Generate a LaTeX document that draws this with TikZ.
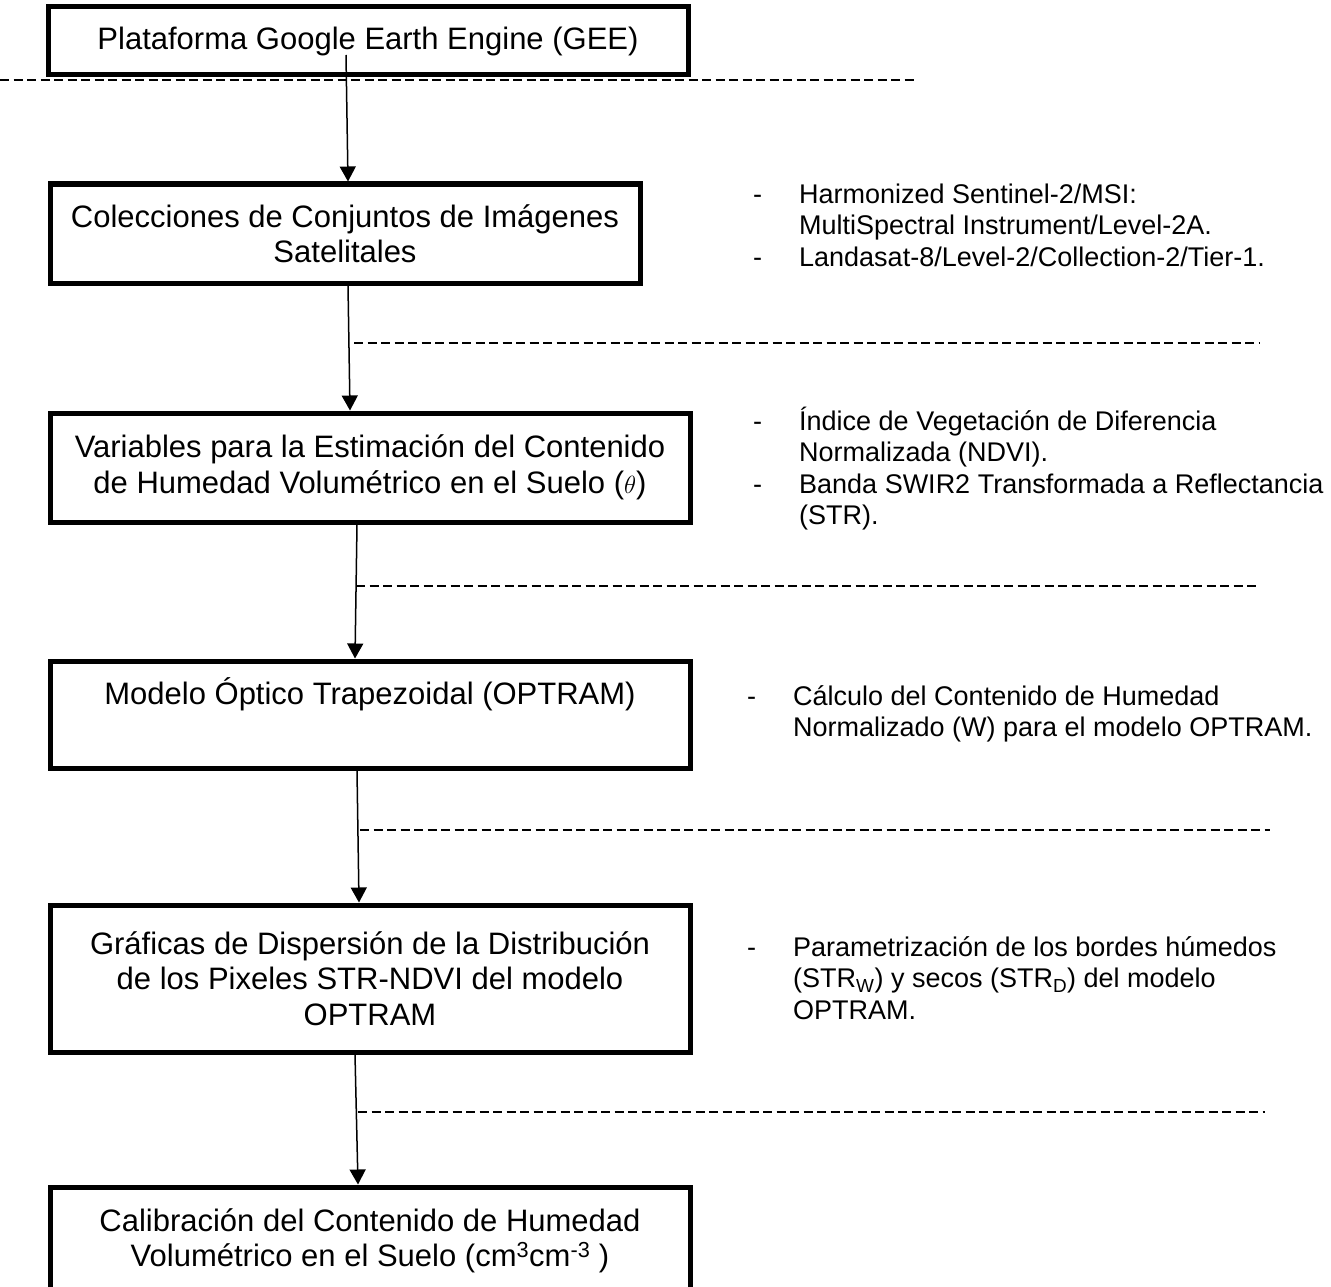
\documentclass[tikz,border=0pt]{standalone}
\usepackage{fontspec}
\setmainfont{Liberation Sans}
\usepackage{tikz}
\usetikzlibrary{arrows.meta, positioning, calc}
\tikzset{
  caja/.style={
    rectangle, draw=black, line width=5pt, fill=white,
    align=center, inner sep=0pt,
    font=\fontsize{31}{35.5}\selectfont
  },
  nota/.style={
    anchor=west, align=left, inner sep=0pt,
    font=\fontsize{27}{31.5}\selectfont
  },
  flecha/.style={-{Triangle[length=15pt,width=16pt]}, line width=1.5pt, draw=black},
  guia/.style={line width=1.5pt, dash pattern=on 9pt off 4.5pt, draw=black}
}
\newcommand{\guion}{\makebox[46pt][l]{-}}
\newcommand{\sigue}{\hspace*{46pt}}

\begin{document}
\begin{tikzpicture}[x=1pt, y=-1pt]
\useasboundingbox (0,0) rectangle (1331,1287);

\node[caja, minimum width=640pt, minimum height=68pt] (gee) at (368,41) {Plataforma Google Earth Engine (GEE)};
\node[caja, minimum width=590pt, minimum height=99pt] (col) at (345,233.5) {Colecciones de Conjuntos de Imágenes\\Satelitales};
\node[caja, minimum width=640pt, minimum height=109pt] (var) at (370,467.5) {Variables para la Estimación del Contenido\\de Humedad Volumétrico en el Suelo (\ensuremath{\theta})};
\node[caja, minimum width=640pt, minimum height=107pt] (opt) at (370,714.5) {Modelo Óptico Trapezoidal (OPTRAM)\\ \strut};
\node[caja, minimum width=640pt, minimum height=147pt] (graf) at (370,978.5) {Gráficas de Dispersión de la Distribución\\de los Pixeles STR-NDVI del modelo\\OPTRAM};
\node[caja, minimum width=640pt, minimum height=108pt] (cal) at (370,1241) {Calibración del Contenido de Humedad\\Volumétrico en el Suelo (cm\textsuperscript{3}cm\textsuperscript{-3} )};

\node[nota] (sat) at (753,225) {\guion Harmonized Sentinel-2/MSI:\\ \sigue MultiSpectral Instrument/Level-2A.\\ \guion Landasat-8/Level-2/Collection-2/Tier-1.};
\node[nota] (ind) at (753,468.5) {\guion Índice de Vegetación de Diferencia\\ \sigue Normalizada (NDVI).\\ \guion Banda SWIR2 Transformada a Reflectancia\\ \sigue (STR).};
\node[nota] (calc) at (747,714) {\guion Cálculo del Contenido de Humedad\\ \sigue Normalizado (W) para el modelo OPTRAM.};
\node[nota] (par) at (747,978) {\guion Parametrización de los bordes húmedos\\ \sigue (STR\textsubscript{W}) y secos (STR\textsubscript{D}) del modelo\\ \sigue OPTRAM.};

\draw[guia] (0,80) -- (915,80);
\draw[guia] (354,343) -- (1260,343);
\draw[guia] (356,586) -- (1260,586);
\draw[guia] (360,830) -- (1270,830);
\draw[guia] (358,1112) -- (1265,1112);

\draw[flecha] ($(gee.center)+(-22,14)$) -- ($(col.north)+(3,0)$);
\draw[flecha] ($(col.south)+(3,0)$) -- ($(var.north)+(-20,0)$);
\draw[flecha] ($(var.south)+(-13,0)$) -- ($(opt.north)+(-15,0)$);
\draw[flecha] ($(opt.south)+(-13,0)$) -- ($(graf.north)+(-11,0)$);
\draw[flecha] ($(graf.south)+(-15,0)$) -- ($(cal.north)+(-12,0)$);

\end{tikzpicture}
\end{document}
